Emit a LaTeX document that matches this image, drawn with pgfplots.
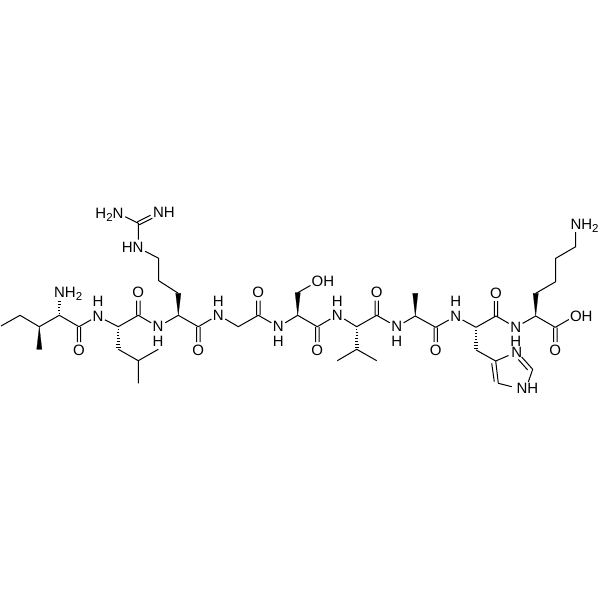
\documentclass[border=0pt]{standalone}
\usepackage{fontspec}
\setmainfont{Liberation Sans}
\usepackage{pgfplots}
\pgfplotsset{compat=1.18}
\newcommand{\lab}[4][center]{\node[anchor=#1,inner sep=0pt,font=\fontsize{15}{16}\selectfont] at (axis cs:#2,#3) {#4};}
\newcommand{\two}{\raisebox{-3pt}{\fontsize{11.5}{12}\selectfont 2}}
\begin{document}
\begin{tikzpicture}
\path[use as bounding box] (0,0) rectangle (600pt,600pt);
\begin{axis}[
    at={(0,0)}, anchor=south west,
    width=600pt, height=600pt, scale only axis,
    xmin=0, xmax=600, ymin=0, ymax=600, y dir=reverse,
    hide axis, unbounded coords=jump
    ]
% bonds, nan breaks the line
\addplot[black, line width=1pt, line join=round] coordinates {
 (1,326)(20,315.3)(39.3,326.7)(59.3,315.3)(79,326.7)(91.1,319.8) (nan,nan)
 (104.9,319.8)(118.3,326.7)(138.3,315.3)(151.1,322.8) (nan,nan)
 (165.2,322.8)(178.3,315.3)(198.3,326.7)(211.4,319) (nan,nan)
 (225.2,319)(238.3,326.7)(258.3,315.3)(271.4,322.8) (nan,nan)
 (285.2,322.8)(297.7,315.3)(317.3,326.7)(330.4,319) (nan,nan)
 (344.2,319)(356.7,326.7)(376.7,315.3)(389.8,322.8) (nan,nan)
 (403.6,322.8)(415.3,316)(435.7,327.3)(448.8,320) (nan,nan)
 (462.6,320)(476,327.3)(496,316)(508.8,323.4) (nan,nan)
 (522.6,323.4)(535.7,316)(555.3,327.3)(568.8,319.5) (nan,nan)
 % C=O pairs
 (77.3,327)(77.3,342) (nan,nan) (80.7,327)(80.7,342) (nan,nan)
 (136.6,315)(136.6,300.5) (nan,nan) (140,315)(140,300.5) (nan,nan)
 (196.6,327)(196.6,342) (nan,nan) (200,327)(200,342) (nan,nan)
 (256.6,315)(256.6,300.5) (nan,nan) (260,315)(260,300.5) (nan,nan)
 (315.6,327)(315.6,342) (nan,nan) (319,327)(319,342) (nan,nan)
 (375,315)(375,300.5) (nan,nan) (378.4,315)(378.4,300.5) (nan,nan)
 (434,327.5)(434,342) (nan,nan) (437.4,327.5)(437.4,342) (nan,nan)
 (494.3,316)(494.3,301) (nan,nan) (497.7,316)(497.7,301) (nan,nan)
 (553.6,327.5)(553.6,342) (nan,nan) (557,327.5)(557,342) (nan,nan)
 % lysine side chain
 (535.7,293.3)(555.7,281.7)(555.7,258.3)(575.7,246.7)(575.7,232) (nan,nan)
 % arginine side chain and guanidine
 (178.3,293.3)(158.7,280.7)(158.7,258.3)(145.2,251.3) (nan,nan)
 (138.3,239.5)(138.3,223.3)(125.2,216.7) (nan,nan)
 (137.4,221.8)(150.5,215.2) (nan,nan) (139.2,224.8)(152.3,218.2) (nan,nan)
 % serine
 (297.7,292.7)(310.4,285.5) (nan,nan)
 % valine
 (337.3,360.7)(356.7,349.3)(376.7,360.7) (nan,nan)
 % leucine
 (118.3,349.3)(138.3,360.7)(158.3,349.3) (nan,nan)
 (138.3,360.7)(138.3,383.3) (nan,nan)
 % histidine
 (476,350)(495.7,361)(508.5,355.5) (nan,nan)
 (495.7,361)(498.3,383.3)(511.7,386.7) (nan,nan)
 (528.3,382)(532.7,369.3)(521.7,357) (nan,nan)
 (491.7,363.3)(494.3,381.7) (nan,nan)
 (518.3,359.5)(527.7,370) (nan,nan)
};
% solid wedges
\addplot[black, fill=black, line width=0.2pt] coordinates {(39.3,326.7)(36.7,349.3)(41.9,349.3)} -- cycle;
\addplot[black, fill=black, line width=0.2pt] coordinates {(178.3,315.3)(175.7,293.3)(180.9,293.3)} -- cycle;
\addplot[black, fill=black, line width=0.2pt] coordinates {(297.7,315.3)(295.1,292.7)(300.3,292.7)} -- cycle;
\addplot[black, fill=black, line width=0.2pt] coordinates {(415.3,316)(412.7,293.3)(417.9,293.3)} -- cycle;
\addplot[black, fill=black, line width=0.2pt] coordinates {(535.7,316)(533.1,293.3)(538.3,293.3)} -- cycle;
% hashed wedges
\addplot[black, line width=0.7pt] coordinates {
 (58.7,313)(59.9,313) (nan,nan) (58.4,310)(60.2,310) (nan,nan) (58.2,307)(60.4,307) (nan,nan) (57.9,304)(60.7,304) (nan,nan) (57.6,301)(61,301) (nan,nan)
 (117.7,329)(118.9,329) (nan,nan) (117.4,332)(119.2,332) (nan,nan) (117.2,335)(119.4,335) (nan,nan) (116.9,338)(119.7,338) (nan,nan) (116.6,341)(120,341) (nan,nan) (116.4,344)(120.2,344) (nan,nan) (116.1,347)(120.5,347) (nan,nan)
 (356.1,329)(357.3,329) (nan,nan) (355.8,332)(357.6,332) (nan,nan) (355.6,335)(357.8,335) (nan,nan) (355.3,338)(358.1,338) (nan,nan) (355,341)(358.4,341) (nan,nan) (354.8,344)(358.6,344) (nan,nan) (354.5,347)(358.9,347) (nan,nan)
 (475.4,330)(476.6,330) (nan,nan) (475.1,333)(476.9,333) (nan,nan) (474.9,336)(477.1,336) (nan,nan) (474.6,339)(477.4,339) (nan,nan) (474.3,342)(477.7,342) (nan,nan) (474.1,345)(477.9,345) (nan,nan) (473.8,348)(478.2,348) (nan,nan)
};
% atom labels
\lab[base west]{53.9}{297.5}{NH\two}
\lab{79}{350}{O}
\lab{98}{316}{N} \lab{98}{301.5}{H}
\lab{138.3}{292.7}{O}
\lab{158}{326.7}{N} \lab{158}{341}{H}
\lab{198.3}{350}{O}
\lab[east]{143.7}{247.3}{HN}
\lab[base east]{123.7}{218}{H\two N}
\lab[west]{152.9}{212.7}{NH}
\lab{218.3}{315}{N} \lab{218.3}{301.5}{H}
\lab{258.3}{292.7}{O}
\lab{278.3}{326.7}{N} \lab{278.3}{341}{H}
\lab{317.3}{350}{O}
\lab[west]{311.5}{281.7}{OH}
\lab{337.3}{315}{N} \lab{337.3}{301.5}{H}
\lab{376.7}{292.7}{O}
\lab{396.7}{326.7}{N} \lab{396.7}{341}{H}
\lab{435.7}{350}{O}
\lab{455.7}{316}{N} \lab{455.7}{301.5}{H}
\lab{496}{293.3}{O}
\lab{515.7}{327.3}{N} \lab{515.7}{341}{H}
\lab{555.3}{350}{O}
\lab[west]{569.8}{316}{OH}
\lab[base west]{570.3}{229.3}{NH\two}
\lab{516.7}{352.3}{N}
\lab[west]{516.3}{388.3}{NH}
\end{axis}
\end{tikzpicture}
\end{document}
